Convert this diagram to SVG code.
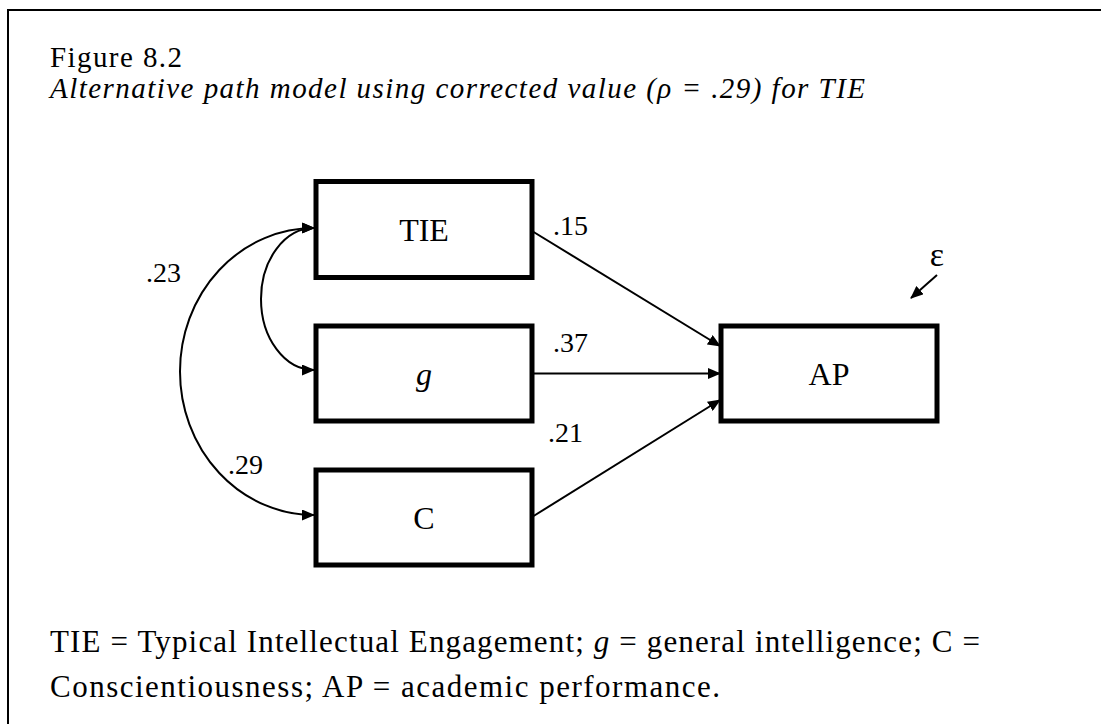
<svg xmlns="http://www.w3.org/2000/svg" width="1101" height="724" viewBox="0 0 1101 724">
<defs>
<style>
text{font-family:"Liberation Serif","Times New Roman",serif;fill:#000}
.box{fill:#fff;stroke:#000;stroke-width:5}
.lbl{font-size:32px;text-anchor:middle}
.num{font-size:28px}
.cap{font-size:31px}
.ttl{font-size:29px}
.con{fill:none;stroke:#000;stroke-width:2}
</style>
<marker id="ah" viewBox="0 0 13 11" refX="12" refY="5.5" markerWidth="13" markerHeight="11" markerUnits="userSpaceOnUse" orient="auto-start-reverse">
<path d="M0,0 L13,5.5 L0,11 z" fill="#000"/>
</marker>
</defs>
<rect x="8" y="10" width="1200" height="800" fill="#fff" stroke="#000" stroke-width="2"/>
<text class="ttl" x="50" y="66.5" textLength="132" lengthAdjust="spacing">Figure 8.2</text>
<text class="ttl" x="50" y="97.5" font-style="italic" textLength="815" lengthAdjust="spacing">Alternative path model using corrected value (ρ = .29) for TIE</text>
<g id="connectors">
<path class="con" d="M532,231 L720,346" marker-end="url(#ah)"/>
<path class="con" d="M532,373.5 L720,373.5" marker-end="url(#ah)"/>
<path class="con" d="M532,517 L720,400" marker-end="url(#ah)"/>
<path class="con" d="M937,275 L911,298" marker-end="url(#ah)"/>
<path class="con" d="M314,228 A53,71 0 0 0 314,370" marker-start="url(#ah)" marker-end="url(#ah)"/>
<path class="con" d="M314,228 A134,143.5 0 0 0 314,515" marker-start="url(#ah)" marker-end="url(#ah)"/>
<text class="num" x="553" y="235">.15</text>
<text class="num" x="553" y="352">.37</text>
<text class="num" x="548" y="442">.21</text>
<text class="num" x="146" y="282">.23</text>
<text class="num" x="228" y="474">.29</text>
<text x="937" y="266" font-size="34" text-anchor="middle">ε</text>
</g>
<g id="node-TIE">
<rect class="box" x="316" y="181.5" width="216" height="96"/>
<text class="lbl" x="424" y="241">TIE</text>
</g>
<g id="node-g">
<rect class="box" x="316" y="326" width="216" height="95"/>
<text class="lbl" x="424" y="385" font-style="italic">g</text>
</g>
<g id="node-C">
<rect class="box" x="316" y="470" width="216" height="95"/>
<text class="lbl" x="424" y="529">C</text>
</g>
<g id="node-AP">
<rect class="box" x="721" y="326" width="216" height="95"/>
<text class="lbl" x="829" y="385">AP</text>
</g>
<text class="cap" x="50" y="651.5" textLength="930" lengthAdjust="spacing">TIE = Typical Intellectual Engagement; <tspan font-style="italic">g</tspan> = general intelligence; C =</text>
<text class="cap" x="50" y="696.5" textLength="670" lengthAdjust="spacing">Conscientiousness; AP = academic performance.</text>
</svg>
